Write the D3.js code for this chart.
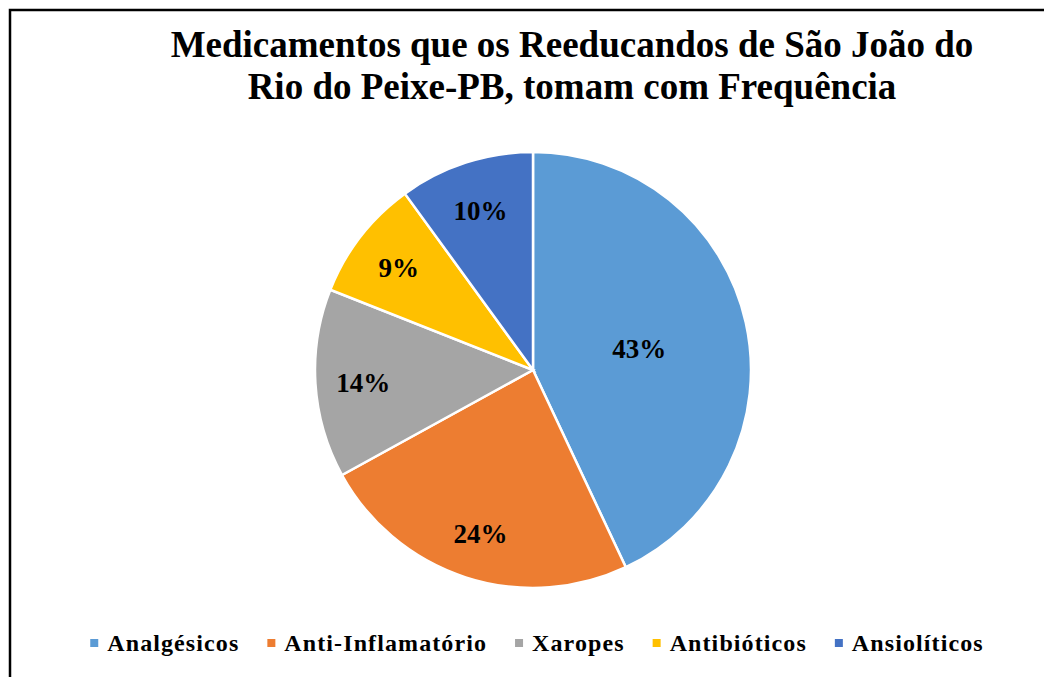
<!DOCTYPE html>
<html>
<head>
<meta charset="utf-8">
<script src="https://d3js.org/d3.v7.min.js"></script>
<style>
  body { margin: 0; background: #fff; }
  text { font-family: "Liberation Serif", "Times New Roman", serif; font-weight: bold; }
</style>
</head>
<body>
<div id="chart"></div>
<script>
var categories = ["Analgésicos", "Anti-Inflamatório", "Xaropes", "Antibióticos", "Ansiolíticos"];
var values = [43, 24, 14, 9, 10];
var colors = ["#5B9BD5", "#ED7D31", "#A5A5A5", "#FFC000", "#4472C4"];
var titleLines = ["Medicamentos que os Reeducandos de São João do", "Rio do Peixe-PB, tomam com Frequência"];

var width = 1044, height = 677;
var cx = 533, cy = 370, radius = 218;

var svg = d3.select("#chart").append("svg")
    .attr("width", width)
    .attr("height", height);

// frame (only left and top edges show in the picture)
svg.append("path")
    .attr("d", "M10," + height + "V10H" + width)
    .attr("fill", "none")
    .attr("stroke", "#000")
    .attr("stroke-width", 2.5);

// title
svg.selectAll(".title")
    .data(titleLines)
    .enter().append("text")
    .attr("class", "title")
    .attr("x", 572)
    .attr("y", function(d, i) { return 57 + i * 42; })
    .attr("text-anchor", "middle")
    .attr("font-size", 37)
    .text(function(d) { return d; });

var total = d3.sum(values);
var pie = d3.pie().sort(null).value(function(d) { return d; });
var arcs = pie(values);

var arc = d3.arc().innerRadius(0).outerRadius(radius);

var g = svg.append("g").attr("transform", "translate(" + cx + "," + cy + ")");

g.selectAll("path")
    .data(arcs)
    .enter().append("path")
    .attr("d", arc)
    .attr("fill", function(d, i) { return colors[i]; })
    .attr("stroke", "#fff")
    .attr("stroke-width", 2.5);

g.selectAll(".lbl")
    .data(arcs)
    .enter().append("text")
    .attr("class", "lbl")
    .attr("transform", function(d) {
      var r = d.data / total > 0.3 ? radius * 0.5 : radius * 0.78;
      var a = (d.startAngle + d.endAngle) / 2;
      return "translate(" + (Math.sin(a) * r) + "," + (-Math.cos(a) * r + 2) + ")";
    })
    .attr("text-anchor", "middle")
    .attr("dy", "0.35em")
    .attr("font-size", 27)
    .text(function(d) { return Math.round(d.data / total * 100) + "%"; });

// legend
var legend = svg.append("g");
var items = legend.selectAll("g")
    .data(categories)
    .enter().append("g");

items.append("rect")
    .attr("width", 8)
    .attr("height", 8)
    .attr("y", -4)
    .attr("fill", function(d, i) { return colors[i]; });

items.append("text")
    .attr("x", 17)
    .attr("dy", "0.35em")
    .attr("font-size", 24)
    .attr("letter-spacing", 1.1)
    .text(function(d) { return d; });

var xpos = 0;
items.each(function() {
  var w = 17 + d3.select(this).select("text").node().getComputedTextLength();
  d3.select(this).attr("transform", "translate(" + xpos + ",0)");
  xpos += w + 28;
});
var legendWidth = xpos - 28;
legend.attr("transform", "translate(" + (537 - legendWidth / 2) + ",643)");
</script>
</body>
</html>
